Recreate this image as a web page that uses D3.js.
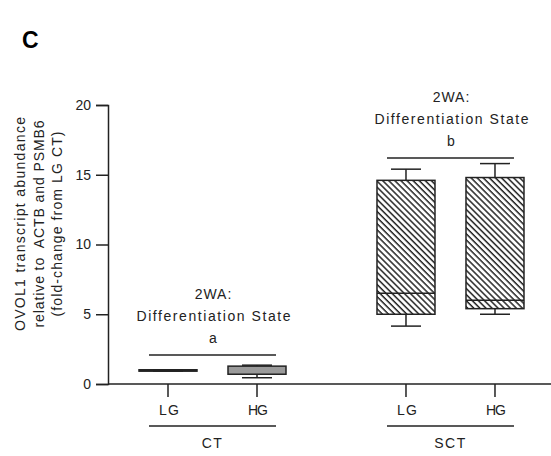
<!DOCTYPE html>
<html lang="en">
<head>
  <meta charset="UTF-8">
  <title>OVOL1 transcript abundance</title>
  <script src="https://d3js.org/d3.v7.min.js"></script>
  <style>
    body { margin: 0; background: #fff; }
    text { font-family: "Liberation Sans", Arial, sans-serif; fill: #222; }
  </style>
</head>
<body>
  <div id="viz"></div>

  <script>
    // Data
    const groups = ["CT", "SCT"];
    const glucose = ["LG", "HG"];
    const whiskerLow  = [0.92, 0.45, 4.15, 5.0];
    const q1          = [0.92, 0.70, 5.0, 5.4];
    const median      = [0.97, 1.05, 6.5, 6.0];
    const q3          = [1.02, 1.28, 14.6, 14.8];
    const whiskerHigh = [1.02, 1.35, 15.4, 15.8];
    const yTicks = [0, 5, 10, 15, 20];
    const statLetters = ["a", "b"];
    const statLevel = [2.07, 16.2];

    const W = 551, H = 456;
    const svg = d3.select('#viz').append('svg')
      .attr('width', W).attr('height', H);

    const defs = svg.append('defs');
    defs.append('pattern')
        .attr('id', 'hatch')
        .attr('patternUnits', 'userSpaceOnUse')
        .attr('width', 4.3).attr('height', 10)
        .attr('patternTransform', 'rotate(-45)')
      .append('line')
        .attr('x1', 1).attr('x2', 1).attr('y1', 0).attr('y2', 10)
        .attr('stroke', '#222').attr('stroke-width', 1.5);

    // scales
    const y = d3.scaleLinear().domain([0, 20]).range([384, 105]);
    const slot = d3.scaleLinear().domain([0, 1]).range([168, 257]);
    const slotIdx = [0, 1, 2.674, 3.674];
    const bars = slotIdx.map((s, i) => ({
      i, x: slot(s), group: groups[Math.floor(i / 2)], gl: glucose[i % 2]
    }));
    const boxW = 58, capW = 30;

    // panel letter
    svg.append('text').attr('x', 22).attr('y', 48)
      .style('font-size', '23px').style('font-weight', 'bold').style('fill', '#000')
      .text('C');

    // y axis
    const yAxis = svg.append('g')
      .attr('transform', 'translate(108,0)')
      .call(d3.axisLeft(y).tickValues(yTicks).tickSize(12).tickPadding(5));
    yAxis.select('.domain').attr('stroke', '#222').attr('stroke-width', 1.5);
    yAxis.selectAll('.tick line').attr('stroke', '#222').attr('stroke-width', 1.5);
    yAxis.selectAll('.tick text').style('font-size', '14px').style('font-family', '"Liberation Sans", Arial, sans-serif').attr('fill', '#222');

    // y title
    const yTitle = ["OVOL1 transcript abundance", "relative to  ACTB and PSMB6", "(fold-change from LG CT)"];
    const yTitleLen = [214, 207, 185];
    const yTitleX = [25, 44, 62];
    yTitle.forEach((t, k) => {
      svg.append('text')
        .attr('transform', `translate(${yTitleX[k]},224) rotate(-90)`)
        .attr('text-anchor', 'middle')
        .attr('textLength', yTitleLen[k]).attr('lengthAdjust', 'spacing')
        .style('font-size', '14px')
        .style('white-space', 'pre')
        .text(t);
    });

    // x axis line with ticks
    svg.append('line').attr('x1', 108).attr('x2', W).attr('y1', y(0)).attr('y2', y(0))
      .attr('stroke', '#222').attr('stroke-width', 1.5);
    svg.selectAll('.xtick').data(bars).enter().append('line')
      .attr('x1', d => d.x).attr('x2', d => d.x)
      .attr('y1', y(0)).attr('y2', y(0) + 13)
      .attr('stroke', '#222').attr('stroke-width', 1.5);
    svg.selectAll('.xlab').data(bars).enter().append('text')
      .attr('x', d => d.x + 1).attr('y', 415)
      .attr('text-anchor', 'middle')
      .attr('textLength', 20).attr('lengthAdjust', 'spacing')
      .style('font-size', '14px')
      .text(d => d.gl);

    // group brackets under the axis
    groups.forEach((g, k) => {
      const a = bars[k * 2].x, b = bars[k * 2 + 1].x;
      svg.append('line').attr('x1', a - 19).attr('x2', b + 19)
        .attr('y1', 426).attr('y2', 426)
        .attr('stroke', '#222').attr('stroke-width', 1.5);
      svg.append('text').attr('x', (a + b) / 2).attr('y', 448)
        .attr('text-anchor', 'middle')
        .style('font-size', '14px').style('letter-spacing', '1.5px')
        .text(g);
    });

    // boxes
    const boxG = svg.selectAll('.box').data(bars).enter().append('g');
    // whiskers
    boxG.append('line')
      .attr('x1', d => d.x).attr('x2', d => d.x)
      .attr('y1', d => y(whiskerLow[d.i])).attr('y2', d => y(q1[d.i]))
      .attr('stroke', '#222').attr('stroke-width', 1.5);
    boxG.append('line')
      .attr('x1', d => d.x).attr('x2', d => d.x)
      .attr('y1', d => y(whiskerHigh[d.i])).attr('y2', d => y(q3[d.i]))
      .attr('stroke', '#222').attr('stroke-width', 1.5);
    boxG.append('line')
      .attr('x1', d => d.x - capW / 2).attr('x2', d => d.x + capW / 2)
      .attr('y1', d => y(whiskerLow[d.i])).attr('y2', d => y(whiskerLow[d.i]))
      .attr('stroke', '#222').attr('stroke-width', 1.5);
    boxG.append('line')
      .attr('x1', d => d.x - capW / 2).attr('x2', d => d.x + capW / 2)
      .attr('y1', d => y(whiskerHigh[d.i])).attr('y2', d => y(whiskerHigh[d.i]))
      .attr('stroke', '#222').attr('stroke-width', 1.5);
    // CT medians sit under the grey fill, SCT medians on top of the hatch
    boxG.filter(d => d.group === 'CT').append('line')
      .attr('x1', d => d.x - boxW / 2).attr('x2', d => d.x + boxW / 2)
      .attr('y1', d => y(median[d.i])).attr('y2', d => y(median[d.i]))
      .attr('stroke', '#222').attr('stroke-width', 1.5);
    boxG.append('rect')
      .attr('x', d => d.x - boxW / 2).attr('width', boxW)
      .attr('y', d => y(q3[d.i])).attr('height', d => y(q1[d.i]) - y(q3[d.i]))
      .attr('fill', d => d.group === 'CT' ? '#9a9a9a' : 'url(#hatch)')
      .attr('stroke', '#222').attr('stroke-width', 1.5);
    boxG.filter(d => d.group === 'SCT').append('line')
      .attr('x1', d => d.x - boxW / 2).attr('x2', d => d.x + boxW / 2)
      .attr('y1', d => y(median[d.i])).attr('y2', d => y(median[d.i]))
      .attr('stroke', '#222').attr('stroke-width', 1.5);

    // two-way ANOVA annotations
    groups.forEach((g, k) => {
      const a = bars[k * 2].x, b = bars[k * 2 + 1].x;
      const ly = y(statLevel[k]);
      const cx = (a + b) / 2 + 1;
      svg.append('line').attr('x1', a - 19).attr('x2', b + 19)
        .attr('y1', ly).attr('y2', ly)
        .attr('stroke', '#222').attr('stroke-width', 1.5);
      const lines = ["2WA:", "Differentiation State", statLetters[k]];
      const offs = [-56, -34, -12.5];
      lines.forEach((t, j) => {
        const tx = svg.append('text').attr('x', cx).attr('y', ly + offs[j])
          .attr('text-anchor', 'middle')
          .style('font-size', '14px')
          .text(t);
        if (j === 1) tx.attr('textLength', 154).attr('lengthAdjust', 'spacing');
        else tx.style('letter-spacing', '1px');
      });
    });
  </script>
</body>
</html>
